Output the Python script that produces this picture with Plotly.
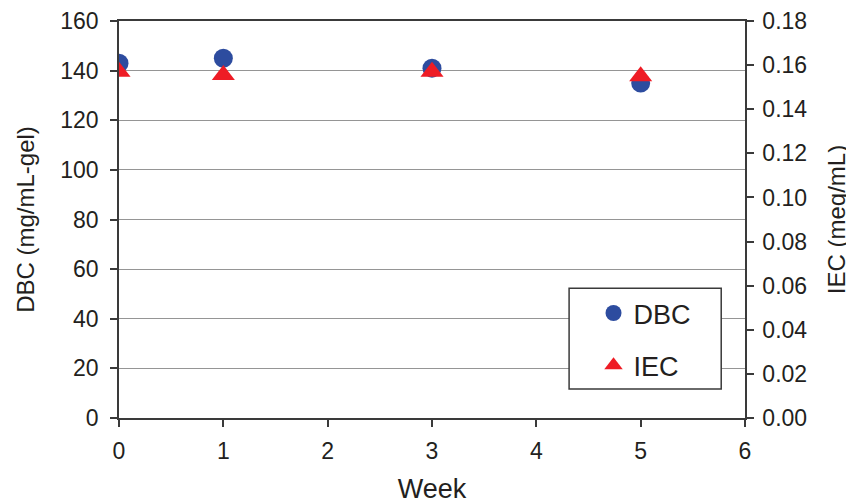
import plotly.graph_objects as go

weeks = [0, 1, 3, 5]
dbc = [143, 145, 141, 135]
iec = [0.157, 0.1555, 0.157, 0.155]

FONT = "Liberation Sans, Arial, sans-serif"
TXT = "#231f20"
AX = "#3a3a3a"

fig = go.Figure()
fig.add_trace(go.Scatter(x=weeks, y=dbc, mode="markers", name="DBC",
                         legendgroup="a",
                         marker=dict(symbol="circle", size=19, color="#2d4c9f"),
                         yaxis="y"))
fig.add_trace(go.Scatter(x=weeks, y=iec, mode="markers", name="IEC",
                         legendgroup="b",
                         marker=dict(symbol="triangle-up", size=20, color="#ee1c25"),
                         yaxis="y2"))

tickfont = dict(family=FONT, size=23, color=TXT)

fig.update_layout(
    width=854, height=503,
    margin=dict(l=111, r=117, t=13, b=93),
    paper_bgcolor="white", plot_bgcolor="white",
    font=dict(family=FONT, color=TXT),
    showlegend=True,
    legend=dict(x=0.758, y=0.325, xanchor="left", yanchor="top",
                bgcolor="rgba(0,0,0,0)", borderwidth=0,
                font=dict(family=FONT, size=27, color=TXT),
                tracegroupgap=14, traceorder="grouped"),
    xaxis=dict(range=[0, 6], dtick=1, tick0=0, showgrid=False, zeroline=False,
               showline=True, linecolor=AX, linewidth=1.5, mirror=True,
               ticks="outside", ticklen=7, tickwidth=1.5, tickcolor=AX,
               tickfont=tickfont, automargin=False, ticklabelstandoff=5,
               title=dict(text="Week", font=dict(family=FONT, size=27, color=TXT), standoff=16)),
    xaxis3=dict(range=[0, 6], dtick=1, tick0=0, overlaying="x", anchor="y",
                showgrid=False, zeroline=False, showline=False,
                ticks="inside", ticklen=6, tickwidth=1.5, tickcolor=AX,
                showticklabels=False, automargin=False),
    yaxis=dict(range=[0, 160], dtick=20, tick0=0, showgrid=True, gridcolor="#959595",
               gridwidth=1, zeroline=False,
               showline=True, linecolor=AX, linewidth=1.5,
               ticks="outside", ticklen=7, tickwidth=1.5, tickcolor=AX,
               tickfont=tickfont, automargin=False, ticklabelstandoff=7,
               title=dict(text="DBC (mg/mL-gel)", font=dict(family=FONT, size=24, color=TXT), standoff=19)),
    yaxis3=dict(range=[0, 160], dtick=20, tick0=0, overlaying="y", anchor="x", side="left",
                showgrid=False, zeroline=False, showline=False,
                ticks="inside", ticklen=6, tickwidth=1.5, tickcolor=AX,
                showticklabels=False, automargin=False),
    yaxis2=dict(range=[0, 0.18], dtick=0.02, tick0=0, overlaying="y", side="right", anchor="x",
                showgrid=False, zeroline=False, tickformat=".2f",
                showline=True, linecolor=AX, linewidth=1.5,
                ticks="outside", ticklen=7, tickwidth=1.5, tickcolor=AX,
                tickfont=tickfont, automargin=False, ticklabelstandoff=4,
                title=dict(text="IEC (meq/mL)", font=dict(family=FONT, size=24, color=TXT), standoff=22)),
    yaxis4=dict(range=[0, 0.18], dtick=0.02, tick0=0, overlaying="y", side="right", anchor="x",
                showgrid=False, zeroline=False, showline=False,
                ticks="inside", ticklen=6, tickwidth=1.5, tickcolor=AX,
                showticklabels=False, automargin=False),
    shapes=[dict(type="rect", xref="paper", yref="paper",
                 x0=0.719, x1=0.962, y0=0.073, y1=0.327,
                 line=dict(color=AX, width=1.5), fillcolor="white", layer="above")],
)

fig.write_html("out.html")
